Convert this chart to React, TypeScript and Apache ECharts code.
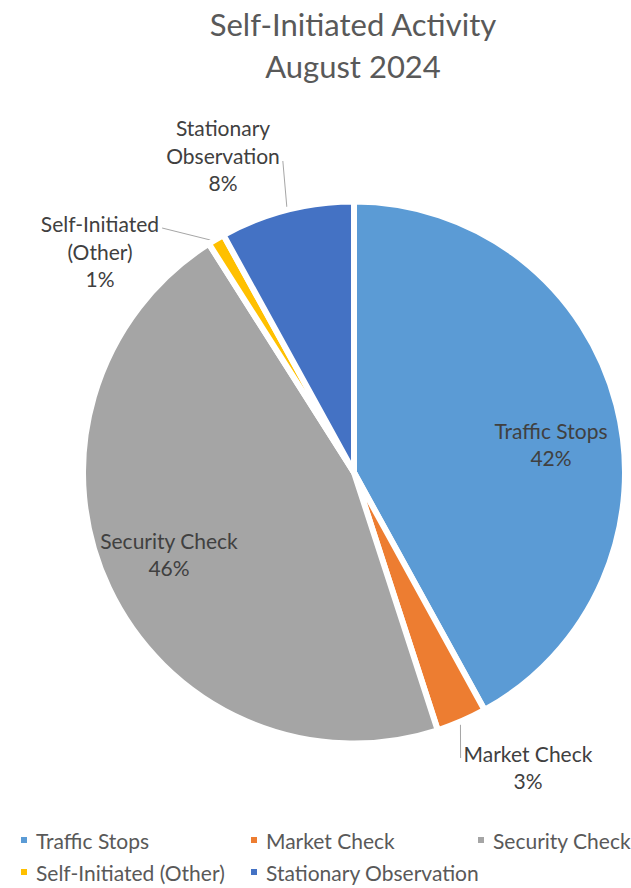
import React, { useEffect, useRef } from "react";
import * as echarts from "echarts";

const TITLE_LINES = ["Self-Initiated Activity", "August 2024"];
const categories = [
  "Traffic Stops",
  "Market Check",
  "Security Check",
  "Self-Initiated (Other)",
  "Stationary Observation",
];
const labelNames = [
  "Traffic Stops",
  "Market Check",
  "Security Check",
  "Self-Initiated\n(Other)",
  "Stationary\nObservation",
];
const percents = [42, 3, 46, 1, 8];
const colors = ["#5B9BD5", "#ED7D31", "#A5A5A5", "#FFC000", "#4472C4"];
const insideLabel = [true, false, true, false, false];

// ---- layout constants ----
const CX = 354;
const CY = 472.5;
const R = 271;
const BORDER = 6;
const LINE_H = 27.5;
// label anchor centres (px)
const LABEL_ANCHORS: [number, number][] = [
  [551, 444],
  [528, 767],
  [169, 554],
  [100, 251],
  [223, 155],
];
// where the leader line meets the label: [side of label box, dy from anchor]
const LEADER_END: [number, number][] = [
  [0, 0],
  [-1, -9],
  [0, 0],
  [1, -23],
  [1, 6],
];

const FONT = "Lato, 'Noto Sans', sans-serif";

function midAngleDeg(i: number) {
  const total = percents.reduce((a, b) => a + b, 0);
  let before = 0;
  for (let k = 0; k < i; k++) before += percents[k];
  return 90 - ((before + percents[i] / 2) / total) * 360;
}

export default function App() {
  const ref = useRef<HTMLDivElement>(null);
  useEffect(() => {
    if (!ref.current) return;
    const chart = echarts.init(ref.current, undefined, { renderer: "svg" });
    const legendData: any[] = [
      { name: categories[0], textStyle: { width: 205 } },
      { name: categories[1], textStyle: { width: 202 } },
      { name: categories[2], textStyle: { width: 135 } },
      "\n",
      { name: categories[3], textStyle: { width: 205 } },
      { name: categories[4], textStyle: { width: 202 } },
    ];
    chart.setOption({
      animation: false,
      backgroundColor: "#ffffff",
      title: {
        text: TITLE_LINES.join("\n"),
        left: 353,
        textAlign: "center",
        top: 3,
        padding: 0,
        textStyle: {
          fontFamily: FONT,
          fontSize: 31,
          fontWeight: "normal",
          color: "#595959",
          lineHeight: 42,
        },
      },
      legend: {
        left: 14,
        top: 823,
        width: 640,
        itemGap: 8,
        itemWidth: 8,
        itemHeight: 8,
        icon: "rect",
        selectedMode: false,
        data: legendData,
        textStyle: {
          fontFamily: FONT,
          fontSize: 21,
          color: "#595959",
          lineHeight: 24,
          padding: [0, 0, 0, 3],
        },
      },
      series: [
        {
          type: "pie",
          center: [CX, CY],
          radius: R,
          startAngle: 90,
          clockwise: true,
          avoidLabelOverlap: false,
          selectedMode: false,
          itemStyle: { borderColor: "#ffffff", borderWidth: BORDER },
          emphasis: { disabled: true },
          data: categories.map((name, i) => ({
            name,
            value: percents[i],
            itemStyle: { color: colors[i] },
            label: {
              position: insideLabel[i] ? "inside" : "outside",
            },
            labelLine: { show: !insideLabel[i] },
          })),
          label: {
            show: true,
            fontFamily: FONT,
            fontSize: 21,
            color: "#404040",
            lineHeight: LINE_H,
            align: "center",
            formatter: (p: any) => `${labelNames[p.dataIndex]}\n${p.value}%`,
          },
          labelLine: {
            show: true,
            length: 10,
            length2: 4,
            lineStyle: { color: "#A6A6A6", width: 1 },
          },
          labelLayout: (p: any) => {
            const i = p.dataIndex;
            const a = LABEL_ANCHORS[i];
            const out: any = {
              x: a[0],
              y: a[1],
              align: "center",
              verticalAlign: "middle",
            };
            if (!insideLabel[i]) {
              const ang = (midAngleDeg(i) * Math.PI) / 180;
              const rr = R - BORDER / 2;
              const sx = CX + rr * Math.cos(ang);
              const sy = CY - rr * Math.sin(ang);
              const w = p.labelRect ? p.labelRect.width : 100;
              const side = LEADER_END[i][0];
              const ex = a[0] + side * (w / 2 + 3);
              const ey = a[1] + LEADER_END[i][1];
              out.labelLinePoints = [
                [sx, sy],
                [ex, ey],
                [ex, ey],
              ];
            }
            return out;
          },
        },
      ],
    });
    return () => chart.dispose();
  }, []);
  return (
    <div
      ref={ref}
      style={{ position: "fixed", left: 0, top: 0, width: 631, height: 888 }}
    />
  );
}
